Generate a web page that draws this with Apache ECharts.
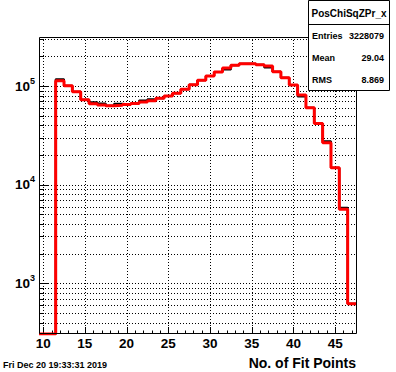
<!DOCTYPE html>
<html><head><meta charset="utf-8">
<script src="https://cdn.jsdelivr.net/npm/echarts@6/dist/echarts.min.js"></script>
<style>html,body{margin:0;padding:0;background:#fff}#c{width:396px;height:372px}</style>
</head><body><div id="c"></div>
<script>
// ---- data ----
const binCenters = [10,11,12,13,14,15,16,17,18,19,20,21,22,23,24,25,26,27,28,29,30,31,32,33,34,35,36,37,38,39,40,41,42,43,44,45,46,47];
const redCounts = [0,0,113100,100700,87500,72600,66200,64200,63100,63700,65000,66500,68700,70800,75000,79200,84300,92600,103100,114300,126300,138700,152100,162100,168300,168300,164400,159500,139700,121400,102400,81100,60300,41700,26600,14850,5620,621];
const blackCounts = [0,0,117200,100700,87500,72600,68600,66500,63100,66000,65000,66500,71200,73300,75000,79200,84300,92600,103100,114300,126300,138700,146800,162100,168300,168300,164400,153900,139700,121400,102400,78300,60300,41700,27600,14850,5820,621];
const xTickLabels = [10,15,20,25,30,35,40,45];
const xTicks = [10,11,12,13,14,15,16,17,18,19,20,21,22,23,24,25,26,27,28,29,30,31,32,33,34,35,36,37,38,39,40,41,42,43,44,45,46,47];
const yTicks = [400,500,600,700,800,900,1000,2000,3000,4000,5000,6000,7000,8000,9000,10000,20000,30000,40000,50000,60000,70000,80000,90000,100000,200000,300000];
const statsLabels = ['Entries','Mean','RMS'];
const statsValues = ['3228079','29.04','8.869'];
const histName = 'PosChiSqZPr_x';
const xTitle = 'No. of Fit Points';
const dateText = 'Fri Dec 20 19:33:31 2019';
const X_MIN = 9.5, X_MAX = 47.5, Y_MIN = 306, Y_MAX = 314000, BIN_W = 1;

// ---- layout ----
const W = 396, H = 372;
const G = {left: 39, right: 40, top: 37, bottom: 38};
const FONT = '"Liberation Sans", Arial, Helvetica, sans-serif';

function stepPoints(counts) {
  const pts = [];
  binCenters.forEach((c, i) => {
    const v = counts[i] > 0 ? counts[i] : Y_MIN;
    pts.push([c - BIN_W / 2, v], [c + BIN_W / 2, v]);
  });
  return pts;
}
function isDecade(v) { const e = Math.log10(v); return Math.abs(e - Math.round(e)) < 1e-6; }

const chart = echarts.init(document.getElementById('c'), null, {renderer: 'svg'});
const txt = (t, x, y, size, align, va) => ({
  type: 'text', x, y, z: 11,
  style: {text: t, fontSize: size, fontWeight: 'bold', fontFamily: FONT, fill: '#000',
    align, textAlign: align, verticalAlign: va, textVerticalAlign: va}
});
const BX = 308.5, BY = 0.5, BW = 81, BH = 90;
chart.setOption({
  animation: false,
  backgroundColor: '#fff',
  grid: {left: G.left, right: G.right, top: G.top, bottom: G.bottom, show: false},
  title: [
    {text: xTitle, right: G.right, top: 356, padding: 0,
      textStyle: {fontSize: 14, fontWeight: 'bold', fontFamily: FONT, color: '#000'}},
    {text: dateText, left: 3, top: 360, padding: 0,
      textStyle: {fontSize: 9, fontWeight: 'bold', fontFamily: FONT, color: '#000'}}
  ],
  xAxis: {
    type: 'value', min: X_MIN, max: X_MAX,
    axisLine: {show: false}, axisTick: {show: false}, splitLine: {show: false},
    axisLabel: {customValues: xTickLabels, margin: 2, fontSize: 13.5, fontWeight: 'bold',
      fontFamily: FONT, color: '#000'}
  },
  yAxis: {
    type: 'log', logBase: 10, min: Y_MIN, max: Y_MAX,
    axisLine: {show: false}, axisTick: {show: false}, splitLine: {show: false},
    axisLabel: {
      showMinLabel: false, showMaxLabel: false, margin: 4,
      formatter: v => isDecade(v) ? '{b|10}{s|' + Math.round(Math.log10(v)) + '}' : '',
      rich: {
        b: {fontSize: 13.5, fontWeight: 'bold', fontFamily: FONT, color: '#000', lineHeight: 14, verticalAlign: 'bottom'},
        s: {fontSize: 9, fontWeight: 'bold', fontFamily: FONT, color: '#000', lineHeight: 9, padding: [0, 0, 8, 0], verticalAlign: 'bottom'}
      }
    }
  },
  series: [
    {
      type: 'custom', coordinateSystem: 'cartesian2d', silent: true, z: 1, clip: false,
      data: xTicks.map(v => [v, Y_MIN]),
      renderItem(params, api) {
        const cs = params.coordSys;
        const v = api.value(0);
        const p = api.coord([v, Y_MIN]);
        const x = Math.round(p[0]) + 0.5;
        const major = v % 5 === 0;
        const ch = [];
        if (major) ch.push({type: 'line', shape: {x1: x, y1: cs.y, x2: x, y2: cs.y + cs.height},
          style: {stroke: '#000', lineWidth: 1, lineDash: [1, 2]}});
        const len = major ? 7 : 3.5;
        ch.push({type: 'line', shape: {x1: x, y1: cs.y + cs.height, x2: x, y2: cs.y + cs.height - len},
          style: {stroke: '#000', lineWidth: 1}});
        return {type: 'group', children: ch};
      }
    },
    {
      type: 'custom', coordinateSystem: 'cartesian2d', silent: true, z: 1, clip: false,
      data: yTicks.map(v => [X_MIN, v]),
      renderItem(params, api) {
        const cs = params.coordSys;
        const v = api.value(1);
        const p = api.coord([X_MIN, v]);
        const y = Math.round(p[1]) + 0.5;
        const len = isDecade(v) ? 10 : 5;
        return {type: 'group', children: [
          {type: 'line', shape: {x1: cs.x, y1: y, x2: cs.x + cs.width, y2: y},
            style: {stroke: '#000', lineWidth: 1, lineDash: [1, 2]}},
          {type: 'line', shape: {x1: cs.x, y1: y, x2: cs.x + len, y2: y},
            style: {stroke: '#000', lineWidth: 1}}
        ]};
      }
    },
    {
      type: 'line', data: stepPoints(blackCounts), symbol: 'none', z: 2,
      lineStyle: {color: '#000', width: 2}
    },
    {
      type: 'line', data: stepPoints(redCounts), symbol: 'none', z: 3,
      lineStyle: {color: '#ff0000', width: 3}
    }
  ],
  graphic: [
    {type: 'rect', z: 9, silent: true,
      shape: {x: G.left + 0.5, y: G.top + 0.5, width: W - G.left - G.right, height: H - G.top - G.bottom - 1},
      style: {fill: 'none', stroke: '#000', lineWidth: 1}},
    {type: 'rect', z: 10, shape: {x: BX, y: BY, width: BW, height: BH},
      style: {fill: '#fff', stroke: '#000', lineWidth: 1}},
    {type: 'line', z: 10, shape: {x1: BX, y1: 24.5, x2: BX + BW, y2: 24.5},
      style: {stroke: '#000', lineWidth: 1}},
    txt(histName, BX + BW / 2, 13, 10, 'center', 'middle'),
    ...statsLabels.map((l, i) => txt(l, 312, 36 + i * 21.8, 9, 'left', 'middle')),
    ...statsValues.map((l, i) => txt(l, 384, 36 + i * 21.8, 9, 'right', 'middle'))
  ]
});
</script></body></html>
